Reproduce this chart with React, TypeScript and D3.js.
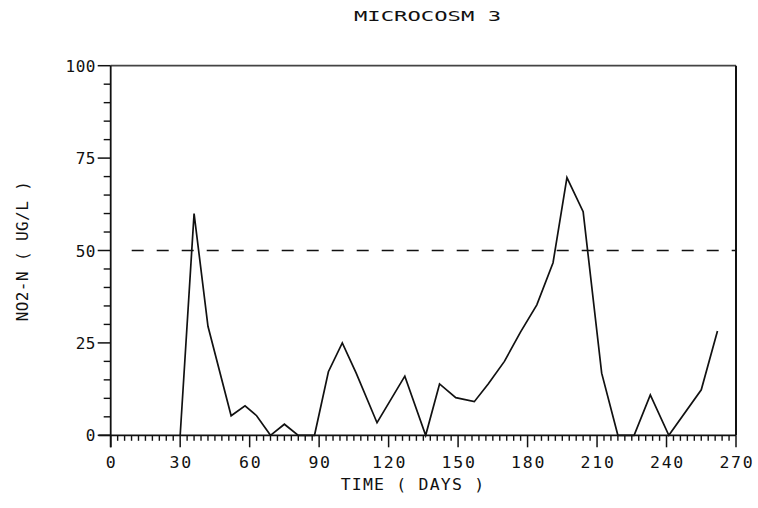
import React from "react";
import * as d3 from "d3";

// NO2-N concentration (ug/L) over time in microcosm 3
const days = [30, 36, 42, 52, 58, 63, 69, 75, 81, 88, 94, 100, 106, 115, 127, 136, 142, 149, 157, 163, 170, 177, 184, 191, 197, 204, 212, 219, 226, 233, 241, 255, 262];
const no2n = [0, 60, 29.5, 5.3, 8, 5.3, 0, 3, 0, 0, 17.2, 25, 16.8, 3.4, 16, 0, 13.9, 10.2, 9.1, 13.9, 20, 28, 35.3, 46.7, 69.7, 60.5, 16.8, 0, 0, 10.9, 0, 12.3, 28.2];

const xMajorTicks = [0, 30, 60, 90, 120, 150, 180, 210, 240, 270];
const yMajorTicks = [0, 25, 50, 75, 100];
const thresholdLevel = 50;

const title = "MICROCOSM 3";
const xTitle = "TIME ( DAYS )";
const yTitle = "NO2-N ( UG/L )";

const W = 758;
const H = 508;
const left = 110.7;
const right = 736;
const top = 65.7;
const bottom = 435.3;

const FONT = "'DejaVu Sans Mono', monospace";

export default function App() {
  const x = d3.scaleLinear().domain([0, 270]).range([left, right]);
  const y = d3.scaleLinear().domain([0, 100]).range([bottom, top]);

  const xMinor = d3.range(0, 271, 3).filter((d) => d % 30 !== 0);
  const yMinor = d3.range(0, 101, 5).filter((d) => d % 25 !== 0);

  const line = d3
    .line<number>()
    .x((_, i) => x(days[i]))
    .y((d) => y(d));

  const ink = "#111";

  return (
    <svg
      width={W}
      height={H}
      viewBox={`0 0 ${W} ${H}`}
      style={{ position: "absolute", left: 0, top: 0, background: "#fff" }}
      fontFamily={FONT}
    >
      <rect x={0} y={0} width={W} height={H} fill="#fff" />

      {/* title */}
      <text
        x={354}
        y={20.5}
        fontSize={13.5}
        textLength={147}
        lengthAdjust="spacingAndGlyphs"
        fill={ink}
      >
        {title}
      </text>

      {/* frame */}
      <line x1={left} x2={right} y1={top} y2={top} stroke="#444" strokeWidth={1.8} />
      <line x1={right} x2={right} y1={top} y2={bottom} stroke={ink} strokeWidth={2} />
      <line x1={left} x2={left} y1={top} y2={bottom + 12} stroke={ink} strokeWidth={1.8} />
      <line x1={left - 12} x2={right} y1={bottom} y2={bottom} stroke={ink} strokeWidth={1.8} />

      {/* y ticks */}
      {yMinor.map((v) => (
        <line key={"ym" + v} x1={left - 7} x2={left} y1={y(v)} y2={y(v)} stroke={ink} strokeWidth={1.4} />
      ))}
      {yMajorTicks.map((v) => (
        <g key={"yM" + v}>
          <line x1={left - 13} x2={left} y1={y(v)} y2={y(v)} stroke={ink} strokeWidth={1.5} />
          <text
            x={96}
            y={y(v) + 6}
            textAnchor="end"
            fontSize={16}
            letterSpacing={0.5}
            fill={ink}
          >
            {String(v)}
          </text>
        </g>
      ))}

      {/* x ticks */}
      {xMinor.map((v) => (
        <line key={"xm" + v} x1={x(v)} x2={x(v)} y1={bottom} y2={bottom + 5.5} stroke={ink} strokeWidth={1.4} />
      ))}
      {xMajorTicks.map((v) => (
        <g key={"xM" + v}>
          <line x1={x(v)} x2={x(v)} y1={bottom} y2={bottom + 12} stroke={ink} strokeWidth={1.5} />
          <text
            x={x(v) + 1}
            y={468}
            textAnchor="middle"
            fontSize={16.5}
            letterSpacing={1.8}
            fill={ink}
          >
            {String(v)}
          </text>
        </g>
      ))}

      {/* axis titles */}
      <text x={413} y={490} textAnchor="middle" fontSize={16.5} letterSpacing={1.2} fill={ink}>
        {xTitle}
      </text>
      <text
        transform={`translate(28.3, 251) rotate(-90)`}
        textAnchor="middle"
        fontSize={16}
        letterSpacing={0.4}
        fill={ink}
      >
        {yTitle}
      </text>

      {/* 50 ug/L reference level */}
      <line
        x1={left + 21}
        x2={right}
        y1={y(thresholdLevel)}
        y2={y(thresholdLevel)}
        stroke={ink}
        strokeWidth={1.5}
        strokeDasharray="12 13"
      />

      {/* concentration series */}
      <path d={line(no2n) ?? ""} fill="none" stroke={ink} strokeWidth={1.7} strokeLinejoin="miter" />
    </svg>
  );
}
